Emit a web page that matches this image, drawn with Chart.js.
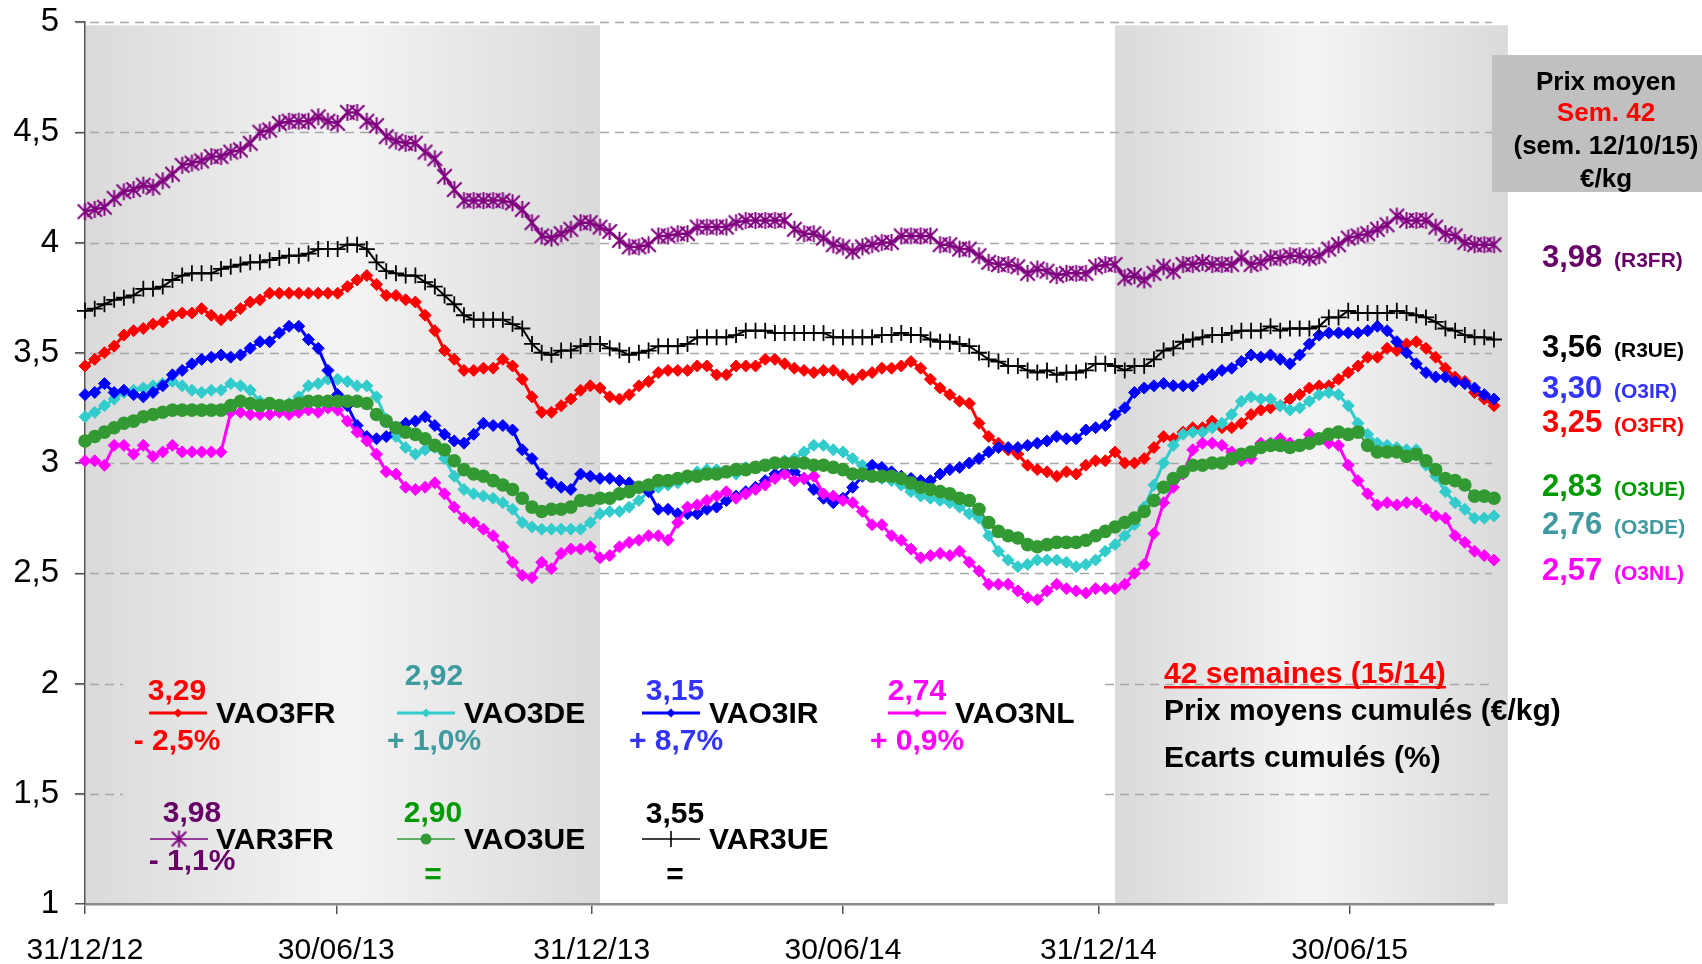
<!DOCTYPE html>
<html>
<head>
<meta charset="utf-8">
<script src="https://cdn.jsdelivr.net/npm/chart.js@4.4.0/dist/chart.umd.min.js"></script>
<style>
  html, body { margin: 0; padding: 0; background: #fff; }
  #wrap { position: relative; width: 1702px; height: 964px; }
</style>
</head>
<body>
<div id="wrap"><canvas id="graf" width="1702" height="964"></canvas></div>
<script>
// Axe des dates : jours depuis le lundi 31/12/12, un point par semaine
const tickDays = [0, 181, 365, 546, 730, 911];
const tickLabels = ['31/12/12', '30/06/13', '31/12/13', '30/06/14', '31/12/14', '30/06/15'];
const bandStart = [0, 742];   // zones grisées (jours)
const bandEnd = [371, 1025];

// Prix hebdomadaires (€/kg)
const r3fr = [4.14,4.15,4.16,4.20,4.23,4.24,4.26,4.25,4.28,4.31,
  4.35,4.36,4.37,4.39,4.39,4.41,4.42,4.45,4.50,4.51,
  4.54,4.55,4.55,4.55,4.57,4.55,4.54,4.59,4.59,4.55,
  4.53,4.48,4.46,4.45,4.45,4.41,4.38,4.30,4.24,4.19,
  4.19,4.19,4.19,4.19,4.18,4.15,4.09,4.03,4.02,4.04,
  4.06,4.09,4.09,4.07,4.05,4.01,
  3.98,3.98,3.99,4.03,4.03,4.04,4.04,4.07,4.07,4.07,
  4.07,4.09,4.10,4.10,4.10,4.10,4.10,4.06,4.04,4.04,
  4.02,3.99,3.98,3.96,3.98,3.99,4.00,4.00,4.03,4.03,
  4.03,4.03,3.99,3.99,3.97,3.97,3.94,3.91,3.90,3.90,
  3.89,3.86,3.88,3.87,3.85,3.86,3.86,3.86,3.89,3.90,
  3.90,
  3.84,3.85,3.83,3.86,3.89,3.87,3.90,3.90,3.91,3.90,
  3.90,3.90,3.93,3.90,3.91,3.93,3.93,3.94,3.94,3.93,
  3.94,3.97,3.99,4.02,4.03,4.04,4.06,4.08,4.12,4.10,
  4.10,4.10,4.07,4.04,4.03,4.00,3.99,3.99,3.99,3.98];

const r3ue = [3.69,3.70,3.72,3.74,3.75,3.76,3.79,3.79,3.80,3.83,
  3.85,3.86,3.86,3.86,3.88,3.89,3.90,3.91,3.91,3.92,
  3.93,3.94,3.94,3.95,3.97,3.97,3.97,3.99,3.99,3.97,
  3.91,3.87,3.86,3.85,3.85,3.82,3.80,3.76,3.72,3.67,
  3.65,3.65,3.65,3.65,3.63,3.61,3.54,3.50,3.49,3.51,
  3.51,3.53,3.54,3.54,3.52,3.51,
  3.49,3.50,3.51,3.53,3.53,3.53,3.54,3.57,3.57,3.57,
  3.57,3.58,3.60,3.60,3.60,3.59,3.59,3.59,3.59,3.59,
  3.59,3.57,3.57,3.57,3.57,3.57,3.58,3.58,3.59,3.58,
  3.58,3.56,3.55,3.55,3.54,3.53,3.50,3.47,3.46,3.44,
  3.44,3.42,3.41,3.42,3.40,3.41,3.41,3.42,3.45,3.45,
  3.44,
  3.42,3.44,3.44,3.47,3.51,3.52,3.55,3.56,3.57,3.58,
  3.58,3.59,3.60,3.60,3.60,3.62,3.60,3.61,3.61,3.61,
  3.62,3.66,3.66,3.69,3.68,3.68,3.68,3.68,3.69,3.68,
  3.67,3.66,3.64,3.61,3.60,3.58,3.57,3.57,3.56,3.55];

const o3fr = [3.44,3.47,3.50,3.53,3.58,3.60,3.61,3.63,3.64,3.67,
  3.68,3.68,3.70,3.67,3.65,3.67,3.70,3.73,3.74,3.77,
  3.77,3.77,3.77,3.77,3.77,3.77,3.77,3.80,3.83,3.85,
  3.81,3.76,3.76,3.74,3.73,3.67,3.60,3.51,3.47,3.42,
  3.42,3.43,3.43,3.47,3.44,3.38,3.30,3.23,3.23,3.26,
  3.29,3.33,3.35,3.34,3.30,
  3.29,3.31,3.35,3.37,3.41,3.42,3.42,3.42,3.44,3.44,
  3.40,3.40,3.44,3.44,3.44,3.47,3.47,3.45,3.43,3.42,
  3.41,3.42,3.42,3.40,3.38,3.40,3.41,3.43,3.43,3.44,
  3.46,3.43,3.38,3.34,3.31,3.28,3.27,3.18,3.12,3.09,
  3.06,3.04,2.99,2.97,2.96,2.94,2.96,2.95,2.99,3.01,
  3.01,3.05,
  3.00,3.00,3.02,3.07,3.12,3.11,3.14,3.16,3.16,3.19,
  3.16,3.16,3.18,3.22,3.24,3.25,3.26,3.29,3.31,3.34,
  3.35,3.35,3.38,3.41,3.44,3.48,3.48,3.52,3.51,3.54,
  3.55,3.52,3.48,3.43,3.39,3.37,3.32,3.29,3.26,3.24];

const o3ir = [3.31,3.32,3.36,3.32,3.33,3.31,3.30,3.32,3.35,3.40,
  3.42,3.45,3.47,3.48,3.49,3.48,3.49,3.52,3.55,3.55,
  3.59,3.62,3.62,3.56,3.52,3.42,3.31,3.26,3.17,3.12,
  3.11,3.12,3.16,3.18,3.19,3.21,
  3.17,3.13,3.10,3.09,3.13,3.18,3.17,3.17,3.15,3.06,
  3.02,2.95,2.91,2.89,2.88,2.95,2.94,2.93,2.93,2.92,
  2.91,2.89,2.87,2.79,2.79,2.77,2.77,2.77,2.79,2.80,
  2.83,2.85,2.87,2.89,2.92,2.95,2.96,
  2.96,2.93,2.88,2.84,2.82,2.84,2.89,2.94,2.99,2.98,
  2.96,2.94,2.93,2.92,2.92,2.95,2.97,2.98,3.00,3.02,
  3.05,3.07,3.07,3.07,3.08,3.09,3.10,3.12,3.11,3.11,
  3.15,3.16,3.17,3.22,3.25,3.32,
  3.34,3.35,3.36,3.35,3.35,3.35,3.38,3.40,3.42,3.43,
  3.46,3.49,3.48,3.49,3.47,3.45,3.49,3.54,3.58,3.59,
  3.59,3.59,3.59,3.60,3.62,3.60,3.55,3.50,3.45,3.41,
  3.39,3.39,3.37,3.36,3.34,3.31,3.29,3.30];

const o3de = [3.21,3.23,3.26,3.29,3.32,3.33,3.34,3.35,3.36,3.37,
  3.35,3.33,3.32,3.33,3.33,3.36,3.35,3.33,
  3.28,3.26,3.25,3.27,3.30,3.35,3.36,3.38,3.38,3.37,
  3.35,3.35,3.30,
  3.20,3.12,3.07,3.04,3.06,3.07,3.02,2.94,2.88,2.86,
  2.85,2.84,2.82,2.79,2.73,2.71,2.70,2.70,2.70,2.70,
  2.70,2.73,2.77,2.78,
  2.78,2.80,2.83,2.87,2.89,2.90,2.91,2.93,2.96,2.97,
  2.97,2.96,2.95,2.98,2.98,2.99,3.00,3.01,3.02,
  3.05,3.08,3.08,3.06,3.05,3.02,2.99,2.95,2.93,2.92,
  2.90,2.87,2.85,2.84,2.83,2.82,2.80,2.77,2.75,2.67,
  2.60,2.56,2.53,2.54,2.56,2.56,2.56,2.55,2.53,2.54,
  2.56,2.60,2.63,2.67,2.72,2.80,2.90,
  3.00,3.08,3.13,3.14,3.14,3.16,3.18,3.22,3.28,3.30,
  3.29,3.29,3.26,3.24,3.25,3.28,3.31,3.32,3.31,3.26,
  3.18,3.13,3.09,3.08,3.07,3.06,3.06,2.99,2.94,2.87,
  2.82,2.79,2.75,2.75,2.76,2.78];

const o3nl = [3.01,3.01,2.99,3.08,3.08,3.04,3.08,3.03,3.05,3.08,
  3.05,3.05,3.05,3.05,3.05,
  3.23,3.23,3.22,3.22,3.22,3.23,3.22,3.23,3.24,3.23,
  3.25,3.24,
  3.19,3.14,3.10,3.04,2.96,2.95,2.89,2.88,2.89,2.91,
  2.86,2.80,2.75,2.73,2.70,2.67,2.62,2.55,2.49,2.48,
  2.55,2.52,2.59,2.61,2.61,2.62,2.57,2.58,
  2.62,2.64,2.65,2.67,2.67,2.65,2.73,2.80,2.81,2.83,
  2.85,2.87,2.84,2.86,2.88,2.90,2.93,2.95,2.92,2.93,
  2.94,2.86,2.85,2.83,2.82,2.78,2.72,2.72,2.67,2.65,
  2.61,2.57,2.58,2.59,2.58,2.60,2.55,2.51,2.45,2.45,
  2.45,2.42,2.39,2.38,2.42,2.45,2.43,2.42,2.41,2.43,
  2.43,2.43,
  2.45,2.50,2.54,2.68,2.82,2.89,2.95,3.06,3.09,3.09,
  3.08,3.05,3.01,3.02,3.09,3.09,3.11,3.09,3.08,3.13,
  3.11,3.09,3.08,2.99,2.92,2.86,2.81,2.82,2.81,2.82,
  2.82,2.79,2.76,2.75,2.67,2.64,2.60,2.58,2.56,2.58];

const o3ue = [3.10,3.12,3.14,3.16,3.18,3.19,3.21,3.22,3.23,3.24,
  3.24,3.24,3.24,3.24,3.24,3.26,3.28,3.27,3.26,3.27,
  3.26,3.26,3.27,3.28,3.28,3.28,3.28,3.28,3.28,3.27,
  3.22,3.19,3.16,3.14,3.13,3.11,3.08,
  3.06,3.01,2.97,2.95,2.94,2.92,2.90,2.88,2.84,2.80,
  2.78,2.79,2.79,2.80,2.83,2.83,2.84,2.84,
  2.86,2.87,2.89,2.90,2.92,2.92,2.93,2.94,2.94,2.95,
  2.95,2.96,2.97,2.97,2.98,2.99,3.00,3.00,3.00,3.00,
  2.99,2.99,2.98,2.97,2.95,2.95,2.94,2.94,2.94,2.93,
  2.91,2.89,2.88,2.87,2.86,2.84,2.83,2.79,2.73,2.69,
  2.67,2.66,2.63,2.62,2.63,2.64,2.64,2.64,2.65,2.67,
  2.69,2.71,
  2.73,2.75,2.78,2.83,2.89,2.93,2.96,2.99,2.99,3.00,
  3.00,3.02,3.04,3.05,3.07,3.08,3.08,3.07,3.08,3.09,
  3.11,3.13,3.14,3.13,3.14,3.08,3.05,3.05,3.05,3.03,
  3.04,3.01,2.97,2.93,2.92,2.90,2.85,2.85,2.84,2.83];

// Cartouches
const legendNames = ['VAO3FR', 'VAO3DE', 'VAO3IR', 'VAO3NL', 'VAR3FR', 'VAO3UE', 'VAR3UE'];
const legendValues = ['3,29', '2,92', '3,15', '2,74', '3,98', '2,90', '3,55'];
const legendPct = ['- 2,5%', '+ 1,0%', '+ 8,7%', '+ 0,9%', '- 1,1%', '=', '='];
const lastValues = ['3,98', '3,56', '3,30', '3,25', '2,83', '2,76', '2,57'];
const lastCodes = ['(R3FR)', '(R3UE)', '(O3IR)', '(O3FR)', '(O3UE)', '(O3DE)', '(O3NL)'];
const boxLines = ['Prix moyen', 'Sem. 42', '(sem. 12/10/15)', '€/kg'];
const noteLines = ['42 semaines (15/14)', 'Prix moyens cumulés (€/kg)', 'Ecarts cumulés (%)'];

const FONT = '"Liberation Sans", Arial, sans-serif';
Chart.defaults.font.family = FONT;

const semaines = r3fr.map((_, i) => i * 7);
function serie(vals) {
  return vals.map((v, i) => ({ x: semaines[i], y: v }));
}

// marqueur étoile (x + trait vertical)
function etoile(color, r, lw) {
  const c = document.createElement('canvas');
  const s = Math.ceil(2 * r + 4);
  c.width = s; c.height = s;
  const g = c.getContext('2d');
  const m = s / 2, d = r * 0.85;
  g.strokeStyle = color;
  g.lineWidth = lw;
  g.beginPath();
  g.moveTo(m - d, m - d); g.lineTo(m + d, m + d);
  g.moveTo(m - d, m + d); g.lineTo(m + d, m - d);
  g.moveTo(m, m - r); g.lineTo(m, m + r);
  g.stroke();
  return c;
}
const starImg = etoile('#800080', 8.5, 2);

function txt(ctx, s, x, y, size, color, align, bold) {
  ctx.font = (bold === false ? '' : 'bold ') + size + 'px ' + FONT;
  ctx.fillStyle = color;
  ctx.textAlign = align || 'left';
  ctx.textBaseline = 'alphabetic';
  ctx.fillText(s, x, y);
}

function icone(ctx, kind, color, x1, x2, y) {
  const cx = (x1 + x2) / 2;
  ctx.strokeStyle = color;
  ctx.fillStyle = color;
  ctx.lineWidth = kind === 'diamond' ? 3 : 1.6;
  ctx.beginPath(); ctx.moveTo(x1, y); ctx.lineTo(x2, y); ctx.stroke();
  if (kind === 'diamond') {
    ctx.beginPath();
    ctx.moveTo(cx, y - 4.5); ctx.lineTo(cx + 4.5, y); ctx.lineTo(cx, y + 4.5); ctx.lineTo(cx - 4.5, y);
    ctx.closePath(); ctx.fill();
  } else if (kind === 'circle') {
    ctx.beginPath(); ctx.arc(cx, y, 5.5, 0, Math.PI * 2); ctx.fill();
  } else if (kind === 'star') {
    ctx.drawImage(starImg, cx - starImg.width / 2, y - starImg.height / 2);
  } else if (kind === 'cross') {
    ctx.lineWidth = 1.6;
    ctx.beginPath(); ctx.moveTo(cx, y - 8); ctx.lineTo(cx, y + 8); ctx.stroke();
  }
}

const decor = {
  id: 'decor',
  beforeDraw(chart) {
    const { ctx, chartArea: a, scales: { x, y } } = chart;
    ctx.save();
    // bandes grisées (années 2013 et 2015)
    const yt = y.getPixelForValue(4.985), yb = y.getPixelForValue(1);
    for (let k = 0; k < bandStart.length; k++) {
      const x0 = x.getPixelForValue(bandStart[k]);
      const x1 = x.getPixelForValue(bandEnd[k]);
      const g = ctx.createLinearGradient(x0, 0, x1, 0);
      g.addColorStop(0, '#dadada');
      g.addColorStop(0.5, '#f4f4f4');
      g.addColorStop(1, '#dadada');
      ctx.fillStyle = g;
      ctx.fillRect(x0, yt, x1 - x0, yb - yt);
    }
    // grille horizontale en tirets
    ctx.strokeStyle = '#a8a8a8';
    ctx.lineWidth = 1.5;
    ctx.setLineDash([9, 6]);
    y.ticks.forEach(t => {
      if (t.value === 1) return;
      const yy = Math.round(y.getPixelForValue(t.value)) + 0.5;
      const segs = (t.value === 2 || t.value === 1.5)
        ? [[a.left - 10, 123], [1105, a.right - 2]]
        : [[a.left - 10, a.right - 2]];
      segs.forEach(s => {
        ctx.beginPath(); ctx.moveTo(s[0], yy); ctx.lineTo(s[1], yy); ctx.stroke();
      });
    });
    ctx.restore();
  },
  afterDraw(chart) {
    const ctx = chart.ctx;
    ctx.save();

    // encadré prix moyen
    ctx.fillStyle = '#c0c0c0';
    ctx.fillRect(1492, 55, 210, 137);
    const boxCol = ['#000', '#ff0000', '#000', '#000'];
    const boxY = [90, 121, 154, 187];
    boxLines.forEach((s, i) => txt(ctx, s, 1606, boxY[i], 26, boxCol[i], 'center'));

    // dernières valeurs à droite
    const lastCol = ['#660066', '#000000', '#3333ff', '#ff0000', '#009900', '#3f9aa0', '#ff00ff'];
    const lastY = [267, 357, 398, 432, 496, 534, 580];
    lastValues.forEach((s, i) => {
      txt(ctx, s, 1542, lastY[i], 31, lastCol[i], 'left');
      txt(ctx, lastCodes[i], 1614, lastY[i], 21, lastCol[i], 'left');
    });

    // cartouches des séries
    const col = ['#ff0000', '#3f9aa0', '#3333ff', '#ff00ff', '#660066', '#009900', '#000000'];
    const line = ['#ff0000', '#33cccc', '#0000ff', '#ff00ff', '#800080', '#339933', '#000000'];
    const kind = ['diamond', 'diamond', 'diamond', 'diamond', 'star', 'circle', 'cross'];
    const cx = [178, 426, 671, 917, 179, 426, 671];
    const nameX = [216, 464, 709, 955, 216, 464, 709];
    const valX = [177, 434, 675, 917, 192, 433, 675];
    const valY = [700, 685, 700, 700, 822, 822, 823];
    const pctX = [177, 434, 676, 917, 192, 433, 675];
    const pctY = [750, 750, 750, 750, 870, 884, 884];
    const rowY = [713, 713, 713, 713, 839, 839, 839];
    legendNames.forEach((n, i) => {
      txt(ctx, legendValues[i], valX[i], valY[i], 30, col[i], 'center');
      icone(ctx, kind[i], line[i], cx[i] - 29, cx[i] + 29, rowY[i]);
      txt(ctx, n, nameX[i], rowY[i] + 10, 30, '#000', 'left');
      txt(ctx, legendPct[i], pctX[i], pctY[i], 30, col[i], 'center');
    });

    // note en bas à droite
    txt(ctx, noteLines[0], 1164, 683, 30, '#ff0000', 'left');
    const w = ctx.measureText(noteLines[0]).width;
    ctx.fillStyle = '#ff0000';
    ctx.fillRect(1164, 686, w, 2.5);
    txt(ctx, noteLines[1], 1164, 720, 30, '#000', 'left');
    txt(ctx, noteLines[2], 1164, 767, 30, '#000', 'left');

    ctx.restore();
  }
};

const diamant = (label, vals, color, order) => ({
  label, data: serie(vals), order,
  borderColor: color, backgroundColor: color, borderWidth: 3,
  pointStyle: 'rectRot', pointRadius: 6, pointBorderWidth: 1,
  pointBackgroundColor: color, pointBorderColor: color, clip: false
});

new Chart(document.getElementById('graf'), {
  type: 'line',
  data: {
    datasets: [
      { label: 'R3UE', data: serie(r3ue), order: 0, borderColor: '#000', backgroundColor: '#000',
        borderWidth: 2, pointStyle: 'cross', pointRadius: 8, pointBorderWidth: 1.8,
        pointBorderColor: '#000', clip: false },
      { label: 'O3UE', data: serie(o3ue), order: 1, borderColor: '#339933', backgroundColor: '#339933',
        borderWidth: 2, pointStyle: 'circle', pointRadius: 6.8, pointBorderWidth: 0,
        pointBackgroundColor: '#339933', clip: false },
      { label: 'R3FR', data: serie(r3fr), order: 2, borderColor: '#800080', backgroundColor: '#800080',
        borderWidth: 2.5, pointStyle: starImg, pointRadius: 8.5, clip: false },
      diamant('O3NL', o3nl, '#ff00ff', 3),
      diamant('O3IR', o3ir, '#0000ff', 4),
      diamant('O3DE', o3de, '#33cccc', 5),
      diamant('O3FR', o3fr, '#ff0000', 6)
    ]
  },
  options: {
    responsive: false,
    animation: false,
    devicePixelRatio: 1,
    layout: { padding: { left: 0, right: 208, top: 22, bottom: 0 } },
    plugins: { legend: { display: false }, tooltip: { enabled: false } },
    elements: { line: { tension: 0 } },
    scales: {
      x: {
        type: 'linear', min: 0, max: 1015,
        afterBuildTicks: s => { s.ticks = tickDays.map(v => ({ value: v })); },
        afterFit: s => { s.height = 60; },
        ticks: {
          autoSkip: false, maxRotation: 0, padding: 19, color: '#000',
          font: { size: 30 },
          callback: v => tickLabels[tickDays.indexOf(v)]
        },
        grid: { drawOnChartArea: false, tickLength: 10, color: '#555', lineWidth: 1.5 },
        border: { color: '#8a8a8a', width: 2.5 }
      },
      y: {
        min: 1, max: 5,
        afterFit: s => { s.width = 85; },
        ticks: {
          stepSize: 0.5, padding: 16, color: '#000', font: { size: 33, lineHeight: 0.35 },
          callback: v => String(v).replace('.', ',')
        },
        grid: { drawOnChartArea: false, tickLength: 10, color: '#555', lineWidth: 1.5 },
        border: { color: '#555', width: 1.5 }
      }
    }
  },
  plugins: [decor]
});
</script>
</body>
</html>
